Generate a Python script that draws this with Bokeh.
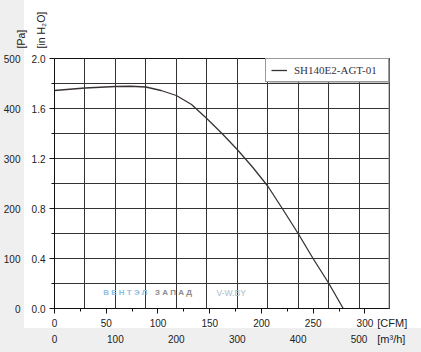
import math
from bokeh.plotting import figure
from bokeh.models import (Range1d, LinearAxis, FixedTicker, Grid, Legend, LegendItem,
                          Label, BoxAnnotation, Span, NumeralTickFormatter)
from bokeh.embed import file_html
from bokeh.resources import INLINE

# ---- data ----
series_name = "SH140E2-AGT-01"
flow_m3h = [0, 50, 100, 125, 150, 175, 200, 225, 250, 275, 300, 325, 350, 375, 400, 425, 450, 474]
pressure_pa = [436, 441, 444, 444.5, 443, 436, 426, 408, 380, 350, 318, 283, 245, 198, 150, 99, 51, 0]

pa_ticks = [0, 100, 200, 300, 400, 500]
pa_minor = [50, 150, 250, 350, 450]
inh2o_ticks = [0.0, 0.4, 0.8, 1.2, 1.6, 2.0]
inh2o_minor = [0.2, 0.6, 1.0, 1.4, 1.8]
cfm_ticks = [0, 50, 100, 150, 200, 250, 300]
cfm_minor = [25, 75, 125, 175, 225, 275]
m3h_ticks = [0, 100, 200, 300, 400, 500]
grid_x = [0, 50, 100, 150, 200, 250, 300, 350, 400, 450, 500, 550]
grid_y = [0, 50, 100, 150, 200, 250, 300, 350, 400, 450, 500]

X_END = 550
Y_END = 500
M3H_PER_CFM = 1.699
INH2O_END = 2.0

FONT = "Liberation Sans"
TXT = "#222222"

p = figure(width=421, height=352, x_range=Range1d(0, X_END), y_range=Range1d(0, Y_END),
           x_axis_location=None, y_axis_location=None, toolbar_location=None,
           output_backend="svg", min_border_left=50, min_border_right=32,
           min_border_top=58, min_border_bottom=44)
p.background_fill_color = "white"
p.border_fill_color = None
p.styles = {"background": "linear-gradient(to right, #efefef 24px, rgba(255,255,255,0) 24px), "
                          "linear-gradient(to top, #efefef 24px, #ffffff 24px)"}
p.outline_line_color = "#111111"
p.outline_line_width = 1

p.extra_x_ranges = {"cfm": Range1d(0, X_END / M3H_PER_CFM)}
p.extra_y_ranges = {"inh2o": Range1d(0, INH2O_END)}

def style(ax, ticks_visible=True):
    ax.major_label_text_font = FONT
    ax.major_label_text_font_size = "10px"
    ax.major_label_text_color = TXT
    if ticks_visible:
        ax.axis_line_color = "#111111"
        ax.major_tick_line_color = "#111111"
        ax.minor_tick_line_color = "#111111"
        ax.major_tick_in = 0
        ax.major_tick_out = 5
        ax.minor_tick_in = 0
        ax.minor_tick_out = 3
    else:
        ax.axis_line_color = None
        ax.major_tick_line_color = None
        ax.minor_tick_line_color = None
        ax.major_tick_in = 0
        ax.major_tick_out = 0

inh2o_axis = LinearAxis(y_range_name="inh2o",
                        ticker=FixedTicker(ticks=inh2o_ticks, minor_ticks=inh2o_minor),
                        formatter=NumeralTickFormatter(format="0.0"))
style(inh2o_axis)
inh2o_axis.major_label_standoff = 4
pa_axis = LinearAxis(ticker=FixedTicker(ticks=pa_ticks, minor_ticks=pa_minor))
style(pa_axis, False)
pa_axis.major_label_standoff = 4
p.add_layout(inh2o_axis, "left")
p.add_layout(pa_axis, "left")

cfm_axis = LinearAxis(x_range_name="cfm", ticker=FixedTicker(ticks=cfm_ticks, minor_ticks=cfm_minor))
style(cfm_axis)
cfm_axis.major_label_standoff = 5
m3h_axis = LinearAxis(ticker=FixedTicker(ticks=m3h_ticks))
style(m3h_axis, False)
m3h_axis.major_label_standoff = 5
p.add_layout(cfm_axis, "below")
p.add_layout(m3h_axis, "below")

p.add_layout(Grid(dimension=0, ticker=FixedTicker(ticks=grid_x), grid_line_color="#333333", grid_line_width=1))
p.add_layout(Grid(dimension=1, ticker=FixedTicker(ticks=grid_y), grid_line_color="#333333", grid_line_width=1))
p.add_layout(Span(location=X_END, dimension="height", line_color="#8a8a8a", line_width=2))

# watermark
p.add_layout(Label(x=80, y=32, text="В Е Н Т Э Л", text_font=FONT, text_font_size="8px",
                   text_font_style="bold", text_color="#8cbfe3", text_baseline="middle"))
p.add_layout(Label(x=165, y=32, text="З А П А Д", text_font=FONT, text_font_size="8px",
                   text_font_style="bold", text_color="#8c8c8c", text_baseline="middle"))
p.add_layout(Label(x=266, y=32, text="V-W.BY", text_font=FONT, text_font_size="8.5px",
                   text_color="#a8bccc", text_baseline="middle"))

r = p.line(flow_m3h, pressure_pa, line_color="#3a3333", line_width=1.3)

# legend shadow + legend
p.add_layout(BoxAnnotation(left=269, right=391, top=60, bottom=82, left_units="canvas",
                           right_units="canvas", top_units="canvas", bottom_units="canvas",
                           fill_color="#8a8a8a", fill_alpha=1, line_color=None))
legend = Legend(items=[LegendItem(label=series_name, renderers=[r])], location="top_right",
                margin=0, padding=5, spacing=0, glyph_width=16, glyph_height=12,
                label_height=12, label_width=89, label_standoff=7,
                border_line_color="#333333", border_line_width=1, background_fill_alpha=1,
                label_text_font="Liberation Serif", label_text_font_size="11px",
                label_text_color="#333344")
p.add_layout(legend)

# axis titles: put into side panels that have spare room, so they are not clipped
# to the frame and do not push the frame (they are positioned by data coordinates)
p.add_layout(Label(x=530, y=-28, text="[CFM]", text_font=FONT, text_font_size="11px",
                   text_color=TXT, text_baseline="middle"), "above")
p.add_layout(Label(x=530, y=-61, text="[m³/h]", text_font=FONT, text_font_size="11px",
                   text_color=TXT, text_baseline="middle"), "above")
p.add_layout(Label(x=-55, y=520, text="[Pa]", angle=math.pi / 2, text_font=FONT,
                   text_font_size="10.5px", text_color=TXT, text_baseline="middle"), "right")
p.add_layout(Label(x=-22, y=520, text="[in H₂O]", angle=math.pi / 2, text_font=FONT,
                   text_font_size="10.5px", text_color=TXT, text_baseline="middle"), "right")

open("out.html", "w").write(file_html(p, INLINE))
